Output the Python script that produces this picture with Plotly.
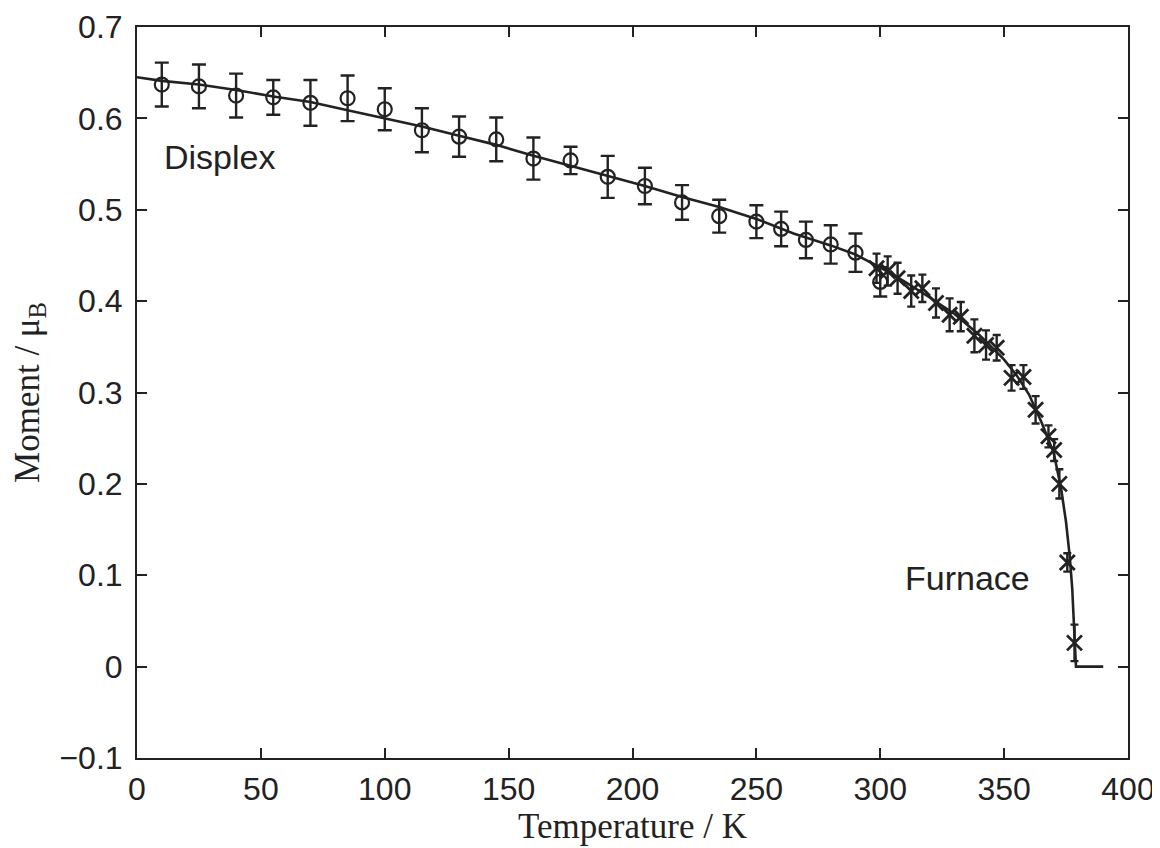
import plotly.graph_objects as go

# Displex data (circles)
displex_T = [10, 25, 40, 55, 70, 85, 100, 115, 130, 145, 160, 175, 190, 205, 220, 235, 250, 260, 270, 280, 290, 300]
displex_M = [0.637, 0.635, 0.625, 0.623, 0.617, 0.622, 0.610, 0.587, 0.580, 0.577, 0.556, 0.554, 0.536, 0.526, 0.508, 0.493, 0.487, 0.479, 0.467, 0.462, 0.453, 0.421]
displex_err = [0.024, 0.024, 0.024, 0.019, 0.025, 0.025, 0.023, 0.024, 0.022, 0.024, 0.023, 0.015, 0.023, 0.020, 0.019, 0.018, 0.018, 0.019, 0.020, 0.021, 0.021, 0.016]

# Furnace data (crosses)
furnace_T = [298.5, 303, 307, 312.5, 317, 322.5, 328, 332.5, 338, 342.7, 347, 353, 357.8, 362.7, 367.9, 370.2, 372.3, 375.5, 378.4]
furnace_M = [0.436, 0.433, 0.425, 0.411, 0.414, 0.398, 0.385, 0.383, 0.362, 0.352, 0.349, 0.316, 0.317, 0.281, 0.252, 0.237, 0.200, 0.114, 0.026]
furnace_err = [0.016, 0.016, 0.017, 0.017, 0.015, 0.016, 0.018, 0.016, 0.018, 0.016, 0.014, 0.014, 0.013, 0.015, 0.012, 0.012, 0.016, 0.010, 0.020]

# Fitted curve
fit_T = [0, 10, 25, 40, 55, 70, 85, 100, 115, 130, 145, 160, 175, 190, 205, 220, 235, 250, 265, 280, 290, 300, 310, 320, 330, 340, 350, 355, 360, 365, 370, 373, 375, 376.5, 377.5, 378.2, 378.7, 379, 390]
fit_M = [0.645, 0.641, 0.637, 0.631, 0.624, 0.618, 0.609, 0.600, 0.591, 0.581, 0.571, 0.559, 0.548, 0.537, 0.526, 0.514, 0.503, 0.490, 0.474, 0.461, 0.451, 0.437, 0.421, 0.404, 0.386, 0.363, 0.336, 0.319, 0.298, 0.268, 0.234, 0.195, 0.158, 0.120, 0.085, 0.045, 0.0, 0.0, 0.0]

x_ticks = [0, 50, 100, 150, 200, 250, 300, 350, 400]
y_ticks = [-0.1, 0, 0.1, 0.2, 0.3, 0.4, 0.5, 0.6, 0.7]
y_ticktext = ["\u22120.1", "0", "0.1", "0.2", "0.3", "0.4", "0.5", "0.6", "0.7"]

ink = "#222222"
sans = "Liberation Sans, Arial, Helvetica"
serif = "Liberation Serif, Times New Roman, Times"

fig = go.Figure()
fig.add_trace(go.Scatter(x=fit_T, y=fit_M, mode="lines",
                         line=dict(color=ink, width=2.6), showlegend=False))
fig.add_trace(go.Scatter(x=displex_T, y=displex_M, mode="markers",
                         marker=dict(symbol="circle-open", size=14, color=ink, line=dict(width=2.2, color=ink)),
                         error_y=dict(type="data", array=displex_err, visible=True, color=ink, thickness=2.4, width=7),
                         showlegend=False))
fig.add_trace(go.Scatter(x=furnace_T, y=furnace_M, mode="markers",
                         marker=dict(symbol="x-thin", size=15, color=ink, line=dict(width=2.8, color=ink)),
                         error_y=dict(type="data", array=furnace_err, visible=True, color=ink, thickness=2.4, width=4),
                         showlegend=False))

fig.add_annotation(x=10, y=0.558, text="Displex", showarrow=False, xanchor="left", yanchor="middle",
                   font=dict(family=sans, size=34, color=ink))
fig.add_annotation(x=309, y=0.097, text="Furnace", showarrow=False, xanchor="left", yanchor="middle",
                   font=dict(family=sans, size=34, color=ink))

axis_common = dict(showgrid=False, zeroline=False, showline=True, linecolor=ink, linewidth=2,
                   mirror="ticks", ticks="inside", ticklen=10, tickwidth=2, tickcolor=ink,
                   tickfont=dict(family=sans, size=32, color=ink))

fig.update_xaxes(range=[0, 400], tickvals=x_ticks, ticktext=[str(v) for v in x_ticks],
                 ticklabelstandoff=2,
                 title=dict(text="Temperature / K", font=dict(family=serif, size=35, color=ink), standoff=4),
                 **axis_common)
fig.update_yaxes(range=[-0.1, 0.7], tickvals=y_ticks, ticktext=y_ticktext,
                 ticklabelstandoff=6,
                 title=dict(text="Moment / \u03bc<sub>B</sub>", font=dict(family=serif, size=35, color=ink), standoff=12),
                 **axis_common)

# The page body adds an 8 px offset, so the figure is 8 px smaller than the window.
fig.update_layout(width=1152, height=840, paper_bgcolor="white", plot_bgcolor="white",
                  margin=dict(l=129, r=32, t=19, b=90, autoexpand=False))

fig.write_html("out.html")
